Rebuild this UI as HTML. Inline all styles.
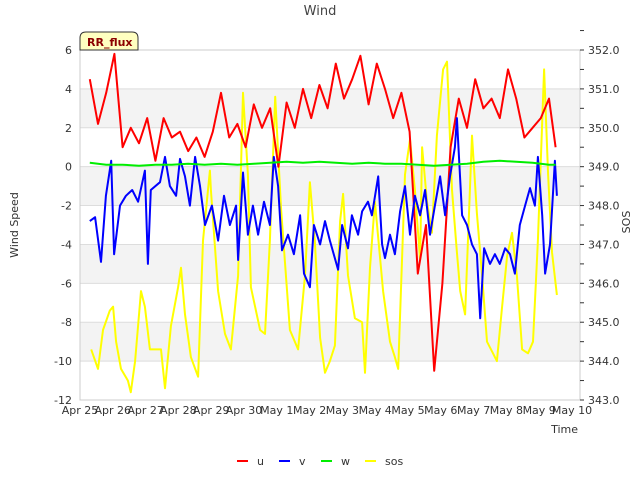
<!DOCTYPE html>
<html><head><meta charset="utf-8"><style>
body{margin:0;background:#fff;}
svg text{font-family:"DejaVu Sans","Liberation Sans",sans-serif;}
</style></head><body>
<svg id="chart" width="640" height="480" xmlns="http://www.w3.org/2000/svg">
<text x="320" y="15" font-size="13" fill="#444" text-anchor="middle">Wind</text>
<g id="bands"></g>
<g id="grid"></g>
<rect x="80" y="50" width="500" height="350" fill="none" stroke="#ccc"/>
<g id="axes"></g>
<g id="series"></g>
<text transform="translate(18,225) rotate(-90)" font-size="11" fill="#333" text-anchor="middle">Wind Speed</text>
<text transform="translate(630,222) rotate(-90)" font-size="11" fill="#333" text-anchor="middle">SOS</text>
<text x="578" y="433" font-size="11" fill="#333" text-anchor="end">Time</text>
<g>
<path d="M80,50 L80,38 Q80,32 86,32 L132,32 Q138,32 138,38 L138,50 Z" fill="#ffffc0" stroke="#333"/>
<text x="87" y="46" font-size="11" font-weight="bold" fill="#8b0000">RR_flux</text>
</g>
<g id="legend"></g>
</svg>
<script>
const uT=[0.3,0.55,0.8,1.05,1.3,1.55,1.8,2.05,2.3,2.55,2.8,3.05,3.3,3.55,3.8,4.05,4.3,4.55,4.8,5.05,5.3,5.55,5.8,6.05,6.3,6.55,6.8,7.05,7.3,7.55,7.8,8.05,8.3,8.55,8.8,9.05,9.3,9.55,9.8,10.05,10.3,10.55,10.8,11.05,11.3,11.55,11.8,12.05,12.3,12.55,12.8,13.05,13.3,13.55,13.8,14.05,14.3,14.5];
const uV=[4.5,2.2,3.8,5.8,1.0,2.0,1.2,2.5,0.3,2.5,1.5,1.8,0.8,1.5,0.5,1.8,3.8,1.5,2.2,1.0,3.2,2.0,3.0,0.0,3.3,2.0,4.0,2.5,4.2,3.0,5.3,3.5,4.5,5.7,3.2,5.3,4.0,2.5,3.8,1.8,-5.5,-3.0,-10.5,-6.0,1.0,3.5,2.0,4.5,3.0,3.5,2.5,5.0,3.5,1.5,2.0,2.5,3.5,1.0];
const vT=[0.3,0.46,0.64,0.79,0.95,1.04,1.22,1.4,1.59,1.77,1.98,2.07,2.16,2.44,2.59,2.74,2.93,3.05,3.2,3.35,3.51,3.66,3.81,4.02,4.21,4.39,4.57,4.76,4.82,4.97,5.12,5.27,5.43,5.61,5.79,5.91,6.04,6.16,6.34,6.52,6.71,6.83,7.01,7.13,7.32,7.47,7.62,7.87,7.99,8.17,8.29,8.48,8.6,8.78,8.9,9.09,9.21,9.3,9.45,9.6,9.76,9.91,10.06,10.21,10.37,10.52,10.67,10.82,10.98,11.13,11.28,11.43,11.49,11.65,11.8,11.95,12.1,12.2,12.32,12.5,12.65,12.8,12.96,13.11,13.26,13.41,13.57,13.72,13.87,13.96,14.09,14.18,14.33,14.48,14.54];
const vV=[-2.8,-2.6,-4.9,-1.5,0.3,-4.5,-2.0,-1.5,-1.2,-1.8,-0.2,-5.0,-1.2,-0.8,0.5,-1.0,-1.5,0.4,-0.5,-2.0,0.5,-1.0,-3.0,-2.0,-3.8,-1.5,-3.0,-2.0,-4.8,-0.3,-3.5,-2.0,-3.5,-1.8,-3.0,0.5,-1.0,-4.3,-3.5,-4.5,-2.5,-5.5,-6.2,-3.0,-4.0,-2.8,-3.8,-5.3,-3.0,-4.2,-2.5,-3.5,-2.3,-1.8,-2.5,-0.5,-4.0,-4.7,-3.5,-4.5,-2.3,-1.0,-3.5,-1.5,-2.5,-1.2,-3.5,-2.0,-0.5,-2.5,-0.5,1.0,2.5,-2.5,-3.0,-4.0,-4.5,-7.8,-4.2,-5.0,-4.5,-5.0,-4.2,-4.5,-5.5,-3.0,-2.0,-1.1,-2.0,0.5,-2.5,-5.5,-4.0,0.3,-1.5];
const wT=[0.3,0.8,1.3,1.8,2.3,2.8,3.3,3.8,4.3,4.8,5.3,5.8,6.3,6.8,7.3,7.8,8.3,8.8,9.3,9.8,10.3,10.8,11.3,11.8,12.3,12.8,13.3,13.8,14.3,14.5];
const wV=[0.2,0.1,0.1,0.05,0.1,0.1,0.15,0.1,0.15,0.1,0.15,0.2,0.25,0.2,0.25,0.2,0.15,0.2,0.15,0.15,0.1,0.05,0.1,0.15,0.25,0.3,0.25,0.2,0.1,0.1];
const sT=[0.34,0.55,0.7,0.91,1.01,1.1,1.25,1.46,1.55,1.68,1.86,1.98,2.13,2.29,2.47,2.59,2.77,2.99,3.08,3.2,3.38,3.6,3.75,3.96,3.99,4.21,4.42,4.6,4.82,4.97,5.12,5.21,5.49,5.64,5.79,5.95,6.13,6.4,6.65,6.86,7.01,7.16,7.32,7.47,7.62,7.77,7.93,8.02,8.17,8.38,8.6,8.69,8.84,8.99,9.24,9.45,9.6,9.7,9.91,10.06,10.21,10.37,10.43,10.58,10.73,10.88,11.07,11.19,11.34,11.49,11.59,11.74,11.95,12.1,12.26,12.41,12.59,12.71,12.87,13.02,13.17,13.32,13.48,13.66,13.81,13.96,14.15,14.27,14.39,14.54];
const sV=[344.3,343.8,344.8,345.3,345.4,344.5,343.8,343.5,343.2,344.0,345.8,345.4,344.3,344.3,344.3,343.3,344.9,345.9,346.4,345.2,344.1,343.6,347.1,348.9,348.4,345.8,344.7,344.3,346.2,350.9,348.8,345.9,344.8,344.7,347.1,350.8,347.9,344.8,344.3,346.2,348.6,347.1,344.6,343.7,344.0,344.4,347.6,348.3,346.2,345.1,345.0,343.7,346.4,348.1,345.8,344.5,344.1,343.8,348.8,349.7,348.4,346.6,349.5,348.1,347.3,349.8,351.5,351.7,348.4,346.8,345.8,345.2,349.8,347.8,346.2,344.5,344.2,344.0,345.4,346.7,347.3,346.2,344.3,344.2,344.5,347.1,351.5,348.8,346.8,345.7];
const xLabels=["Apr 25","Apr 26","Apr 27","Apr 28","Apr 29","Apr 30","May 1","May 2","May 3","May 4","May 5","May 6","May 7","May 8","May 9","May 10"];
const yTicks=[-12,-10,-8,-6,-4,-2,0,2,4,6];
const y2Ticks=[343,344,345,346,347,348,349,350,351,352];

const L=80,R=580,T=50,B=400;
const xS=t=>L+t*32.8;
const yS=v=>B-(v+12)/18*(B-T);
const y2S=v=>B-(v-343)/9*(B-T);
const NS="http://www.w3.org/2000/svg";
function mk(tag,attrs,parent){const e=document.createElementNS(NS,tag);for(const k in attrs)e.setAttribute(k,attrs[k]);parent.appendChild(e);return e;}
const bands=document.getElementById('bands'),grid=document.getElementById('grid'),axes=document.getElementById('axes'),series=document.getElementById('series'),legend=document.getElementById('legend');
[[2,4],[-2,0],[-6,-4],[-10,-8]].forEach(b=>{
  const r=mk('rect',{x:L,y:yS(b[1]),width:R-L,height:yS(b[0])-yS(b[1]),fill:'#f3f3f3'},bands);
  
  
});
yTicks.forEach(v=>{
  const g=mk('line',{x1:L,x2:R,y1:yS(v),y2:yS(v),stroke:'#ddd'},grid);
  
  
  const t=mk('text',{x:L-8,y:yS(v)+4,'font-size':11,fill:'#333','text-anchor':'end'},axes);
  t.textContent=v;
  
  
});
y2Ticks.forEach(v=>{
  mk('line',{x1:R,x2:R+4,y1:y2S(v),y2:y2S(v),stroke:'#333'},axes);
  mk('line',{x1:R,x2:R+4,y1:y2S(v+0.5),y2:y2S(v+0.5),stroke:'#333'},axes);
  const t=mk('text',{x:R+8,y:y2S(v)+4,'font-size':11,fill:'#333'},axes);
  t.textContent=v.toFixed(1);
  
  
});
xLabels.forEach((s,i)=>{
  const t=mk('text',{x:xS(i),y:414,'font-size':11,fill:'#333','text-anchor':'middle'},axes);
  t.textContent=s;
  
  
});
function line(ts,vs,sc,color,name){
  const p=mk('polyline',{points:ts.map((t,i)=>xS(t).toFixed(1)+','+sc(vs[i]).toFixed(1)).join(' '),fill:'none',stroke:color,'stroke-width':2,'stroke-linejoin':'round'},series);
  
  
}
line(sT,sV,y2S,'#ffff00','sos-line');
line(uT,uV,yS,'#ff0000','u-line');
line(vT,vV,yS,'#0000ff','v-line');
line(wT,wV,yS,'#00ee00','w-line');
[['u','#ff0000',237],['v','#0000ff',279],['w','#00ee00',321],['sos','#ffff00',365]].forEach(d=>{
  const g=mk('g',{},legend);
  
  
  mk('line',{x1:d[2],x2:d[2]+11,y1:461,y2:461,stroke:d[1],'stroke-width':2},g);
  const t=mk('text',{x:d[2]+20,y:465,'font-size':11,fill:'#333'},g);
  t.textContent=d[0];
});
</script>
</body></html>
